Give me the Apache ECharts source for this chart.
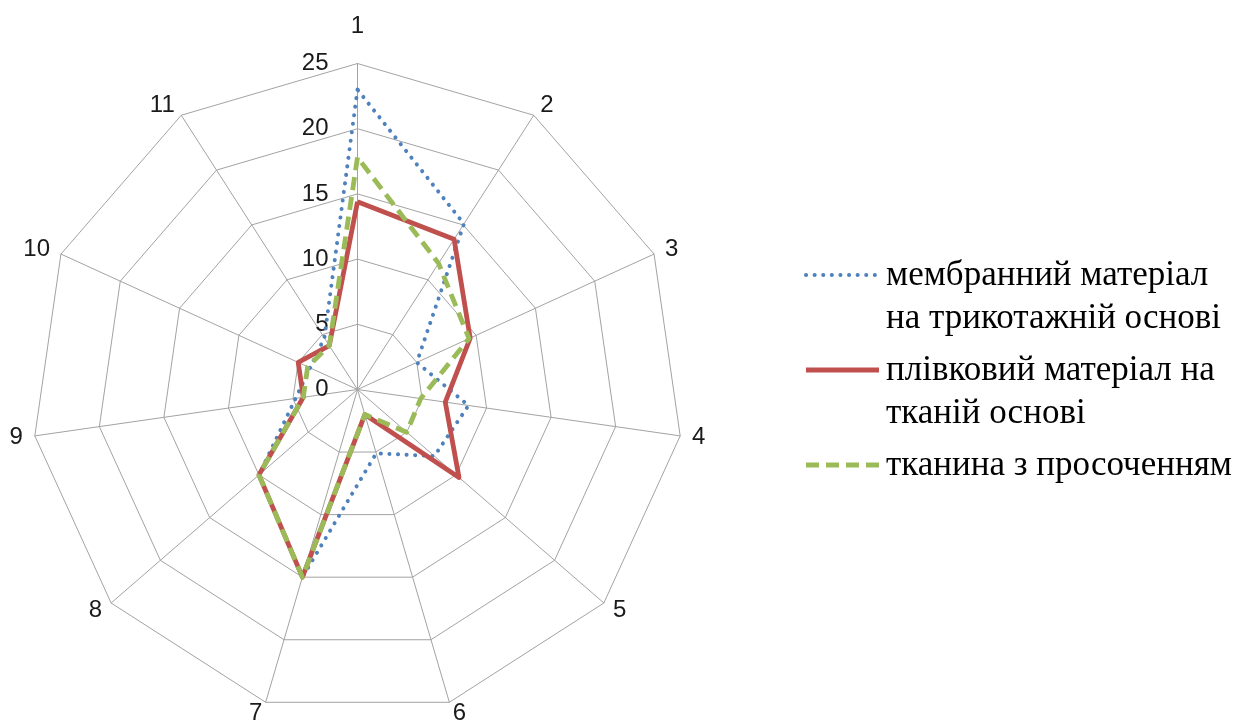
<!DOCTYPE html>
<html><head><meta charset="utf-8">
<script src="https://cdn.jsdelivr.net/npm/echarts@6/dist/echarts.min.js"></script>
<style>html,body{margin:0;padding:0;background:#fff}#c{width:1235px;height:726px}</style>
</head><body><div id="c"></div>
<script>
// ---- data ----
const axisNames = ['1','2','3','4','5','6','7','8','9','10','11'];
const axisMin = 0;
const axisMax = 25;
const axisSplits = 5;
const seriesNames = [
  'мембранний матеріал на трикотажній основі',
  'плівковий матеріал на тканій основі',
  'тканина з просоченням'
];
const legendLines = [
  ['мембранний матеріал', 'на трикотажній основі'],
  ['плівковий матеріал на', 'тканій основі'],
  ['тканина з просоченням']
];
const membraneValues = [23.0, 15.1, 5.0, 8.6, 7.8, 5.1, 15.0, 10.0, 4.8, 4.0, 4.7];
const filmValues     = [14.4, 13.7, 9.5, 6.8, 10.3, 2.0, 15.0, 10.0, 4.2, 5.0, 4.0];
const fabricValues   = [17.8, 11.5, 9.4, 4.9, 5.0, 2.0, 15.0, 10.0, 4.2, 4.2, 4.0];

// ---- styles ----
const colors = ['#4f81bd', '#c0504d', '#9bbb59'];
const lineStyles = [
  { color: colors[0], width: 4, type: [0.1, 8.5], cap: 'round' },
  { color: colors[1], width: 4.8, type: 'solid' },
  { color: colors[2], width: 4.8, type: [13, 7], cap: 'butt' }
];
const gridColor = '#a3a3a3';
const textColor = '#1a1a1a';

// ECharts lays radar indicators counter-clockwise; Excel goes clockwise.
const order = axisNames.map((_, i) => (axisNames.length - i) % axisNames.length);
const reorder = arr => order.map(i => arr[i]);

const indicator = order.map((i, k) => {
  const ind = { name: axisNames[i], min: axisMin, max: axisMax };
  if (k === 0) {
    ind.axisLabel = {
      show: true, margin: 29, fontSize: 24, color: textColor,
      fontFamily: 'Liberation Sans'
    };
  }
  return ind;
});

const allValues = [membraneValues, filmValues, fabricValues];

const legendTop = [275, 370, 465];
const lineGap = 43;
const graphic = [];
legendLines.forEach((lines, i) => {
  graphic.push({
    type: 'line', z: 10,
    shape: { x1: 806, y1: legendTop[i], x2: 879, y2: legendTop[i] },
    style: {
      stroke: lineStyles[i].color, lineWidth: lineStyles[i].width,
      lineDash: Array.isArray(lineStyles[i].type) ? lineStyles[i].type : null,
      lineCap: lineStyles[i].cap || 'butt'
    }
  });
  lines.forEach((t, j) => {
    graphic.push({
      type: 'text', z: 10,
      x: 886, y: legendTop[i] + 1 + j * lineGap,
      style: {
        text: t, fill: '#000', font: '35px "Liberation Serif"',
        textAlign: 'left', textVerticalAlign: 'middle'
      }
    });
  });
});

const chart = echarts.init(document.getElementById('c'), null, { renderer: 'canvas' });
chart.setOption({
  backgroundColor: '#ffffff',
  animation: false,
  radar: {
    center: [357.5, 389.5],
    radius: 326,
    startAngle: 90,
    shape: 'polygon',
    splitNumber: axisSplits,
    nameGap: 12,
    indicator: indicator,
    axisName: {
      color: textColor, fontSize: 24, fontFamily: 'Liberation Sans',
      formatter: function (name) { return name === axisNames[0] ? '{t|' + name + '}' : name; },
      rich: { t: { fontSize: 24, fontFamily: 'Liberation Sans', color: textColor, padding: [0, 0, 13, 0] } }
    },
    axisLabel: { show: false },
    axisTick: { show: false },
    axisLine: { lineStyle: { color: gridColor, width: 1 } },
    splitLine: { lineStyle: { color: gridColor, width: 1 } },
    splitArea: { show: false }
  },
  series: [{
    type: 'radar',
    symbol: 'none',
    data: allValues.map((vals, i) => ({
      name: seriesNames[i],
      value: reorder(vals),
      lineStyle: lineStyles[i],
      areaStyle: null
    }))
  }],
  graphic: graphic
});
</script></body></html>
